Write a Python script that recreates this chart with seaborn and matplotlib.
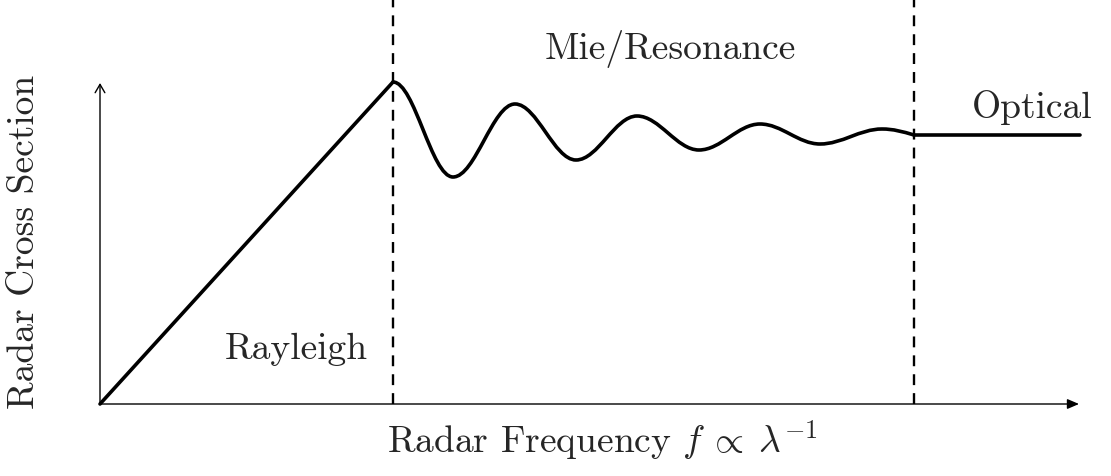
import numpy as np
import pandas as pd
import matplotlib
matplotlib.use("Agg")
import matplotlib.pyplot as plt
from matplotlib.path import Path
from matplotlib.patches import PathPatch
import seaborn as sns

# ---------------- data (arbitrary units) ----------------
rayleigh_x = [0.0, 2.93]
rayleigh_y = [0.0, 3.22]
# extrema of the Mie/resonance oscillation (peak, trough, ... , end point)
mie_x = [2.93, 3.53, 4.15, 4.76, 5.37, 5.99, 6.60, 7.20, 7.82, 8.14]
mie_y = [3.22, 2.27, 3.00, 2.44, 2.88, 2.54, 2.80, 2.60, 2.75, 2.69]
optical_x = [8.14, 9.80]
optical_y = [2.69, 2.69]
boundaries = [2.93, 8.14]
region_labels = ["Rayleigh", "Mie/Resonance", "Optical"]
x_label = r"Radar Frequency $f\:\propto\:\lambda^{-1}$"
y_label = "Radar Cross Section"

# ---------------- style ----------------
sns.set_theme(style="white")
plt.rcParams["font.family"] = ["cmr10", "DejaVu Serif"]
plt.rcParams["mathtext.fontset"] = "cm"
plt.rcParams["axes.unicode_minus"] = False
plt.rcParams["axes.formatter.use_mathtext"] = True

fig = plt.figure(figsize=(11.11, 4.76), dpi=100)
ax = fig.add_axes([0, 0, 1, 1])
ax.set_xlim(-1.00, 10.11)
ax.set_ylim(-0.72, 4.04)
ax.set_axis_off()

LW = 2.6
FS = 27

# axes arrows
ax.annotate("", xy=(9.79, 0), xytext=(0, 0),
            arrowprops=dict(arrowstyle="-|>,head_length=0.7,head_width=0.3",
                            lw=1.0, color="black", shrinkA=0, shrinkB=0,
                            mutation_scale=10))
ax.annotate("", xy=(0, 3.21), xytext=(0, 0),
            arrowprops=dict(arrowstyle="->,head_length=0.6,head_width=0.35",
                            lw=1.0, color="black", shrinkA=0, shrinkB=0,
                            mutation_scale=10))

# region boundaries
ax.vlines(boundaries, 0, 4.2, colors="black", linewidth=1.7,
          linestyles=[(0, (4.6, 3.4))])

# Rayleigh and optical straight segments
df_r = pd.DataFrame({"x": rayleigh_x, "y": rayleigh_y})
df_o = pd.DataFrame({"x": optical_x, "y": optical_y})
sns.lineplot(data=df_r, x="x", y="y", ax=ax, color="black", lw=LW,
             solid_capstyle="round", estimator=None, sort=False)
sns.lineplot(data=df_o, x="x", y="y", ax=ax, color="black", lw=LW,
             solid_capstyle="round", estimator=None, sort=False)
ax.set_xlabel("")
ax.set_ylabel("")

# smooth resonance curve through the extrema (cubic Bezier segments)
k = 0.36
verts = [(mie_x[0], mie_y[0])]
codes = [Path.MOVETO]
n = len(mie_x)
for i in range(n - 1):
    x0, y0 = mie_x[i], mie_y[i]
    x1, y1 = mie_x[i + 1], mie_y[i + 1]
    dx = x1 - x0
    c1 = (x0 + k * dx, y0)
    if i < n - 2:
        c2 = (x1 - k * dx, y1)
    else:
        slope = (y1 - y0) * np.pi / 2 / dx
        c2 = (x1 - k * dx, y1 - slope * k * dx)
    verts += [c1, c2, (x1, y1)]
    codes += [Path.CURVE4] * 3
ax.add_patch(PathPatch(Path(verts, codes), facecolor="none",
                       edgecolor="black", lw=LW, capstyle="round",
                       joinstyle="round"))

# labels
ax.text(1.96, 0.45, region_labels[0], ha="center", va="baseline", fontsize=FS)
ax.text(5.70, 3.45, region_labels[1], ha="center", va="baseline", fontsize=FS)
ax.text(9.32, 2.86, region_labels[2], ha="center", va="baseline", fontsize=FS)
ax.text(5.02, -0.49, x_label, ha="center", va="baseline", fontsize=FS)
ax.text(-0.76, 1.62, y_label, ha="center", va="center", rotation=90,
        fontsize=FS)

fig.savefig("out.png", dpi=100)
